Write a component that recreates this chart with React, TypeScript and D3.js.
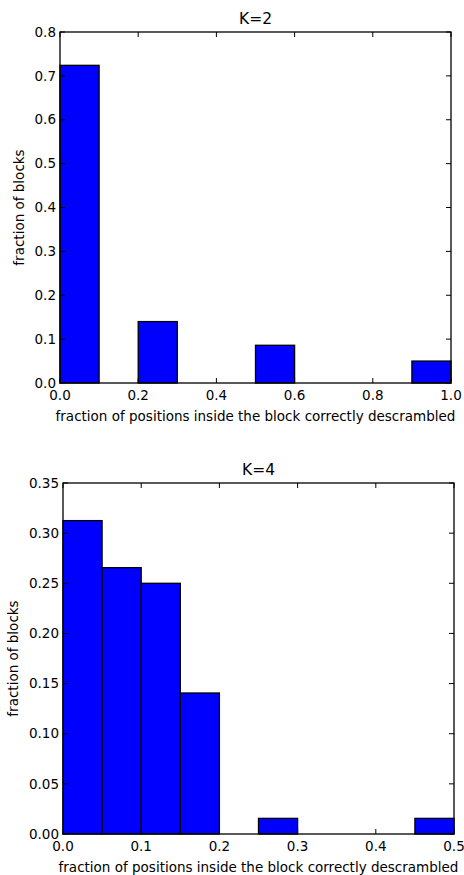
import React, { useRef, useEffect } from 'react';
import * as d3 from 'd3';

// K=2 histogram (bin edges and heights)
const k2Bins = [[0.0, 0.1], [0.2, 0.3], [0.5, 0.6], [0.9, 1.0]];
const k2Values = [0.724, 0.14, 0.086, 0.05];
const k2XTicks = [0.0, 0.2, 0.4, 0.6, 0.8, 1.0];
const k2YTicks = [0.0, 0.1, 0.2, 0.3, 0.4, 0.5, 0.6, 0.7, 0.8];

// K=4 histogram
const k4Bins = [[0.0, 0.05], [0.05, 0.1], [0.1, 0.15], [0.15, 0.2], [0.25, 0.3], [0.45, 0.5]];
const k4Values = [0.3125, 0.2656, 0.25, 0.1406, 0.0156, 0.0156];
const k4XTicks = [0.0, 0.1, 0.2, 0.3, 0.4, 0.5];
const k4YTicks = [0.0, 0.05, 0.1, 0.15, 0.2, 0.25, 0.3, 0.35];

const xLabel = 'fraction of positions inside the block correctly descrambled';
const yLabel = 'fraction of blocks';

const FONT = 'DejaVu Sans, sans-serif';
const FS = 13.5;

function drawPanel(g, opts) {
    const { left, top, width, height, title, bins, values, xTicks, yTicks, xMax, yMax, xFmt, yFmt, yLabelX } = opts;
    const x = d3.scaleLinear().domain([0, xMax]).range([left, left + width]);
    const y = d3.scaleLinear().domain([0, yMax]).range([top + height, top]);
    const tick = 5;

    // bars
    g.selectAll('rect.bar')
        .data(bins.map((b, i) => ({ x0: b[0], x1: b[1], v: values[i] })))
        .join('rect')
        .attr('class', 'bar')
        .attr('x', d => x(d.x0))
        .attr('y', d => y(d.v))
        .attr('width', d => x(d.x1) - x(d.x0))
        .attr('height', d => y(0) - y(d.v))
        .attr('fill', '#0000ff')
        .attr('stroke', '#000')
        .attr('stroke-width', 1.3);

    // frame
    g.append('rect')
        .attr('x', left).attr('y', top)
        .attr('width', width).attr('height', height)
        .attr('fill', 'none').attr('stroke', '#000').attr('stroke-width', 1.3);

    // inward ticks on all four sides
    xTicks.forEach(t => {
        g.append('line').attr('x1', x(t)).attr('x2', x(t)).attr('y1', top + height).attr('y2', top + height - tick).attr('stroke', '#000');
        g.append('line').attr('x1', x(t)).attr('x2', x(t)).attr('y1', top).attr('y2', top + tick).attr('stroke', '#000');
        g.append('text').attr('x', x(t)).attr('y', top + height + 17)
            .attr('text-anchor', 'middle').attr('font-family', FONT).attr('font-size', FS)
            .text(xFmt(t));
    });
    yTicks.forEach(t => {
        g.append('line').attr('x1', left).attr('x2', left + tick).attr('y1', y(t)).attr('y2', y(t)).attr('stroke', '#000');
        g.append('line').attr('x1', left + width).attr('x2', left + width - tick).attr('y1', y(t)).attr('y2', y(t)).attr('stroke', '#000');
        g.append('text').attr('x', left - 4).attr('y', y(t)).attr('dy', '0.35em')
            .attr('text-anchor', 'end').attr('font-family', FONT).attr('font-size', FS)
            .text(yFmt(t));
    });

    g.append('text').attr('x', left + width / 2).attr('y', top - 8)
        .attr('text-anchor', 'middle').attr('font-family', FONT).attr('font-size', 15.5)
        .text(title);
    g.append('text').attr('x', left + width / 2).attr('y', top + height + 38)
        .attr('text-anchor', 'middle').attr('font-family', FONT).attr('font-size', FS)
        .text(xLabel);
    g.append('text')
        .attr('transform', `translate(${yLabelX},${top + height / 2}) rotate(-90)`)
        .attr('text-anchor', 'middle').attr('font-family', FONT).attr('font-size', FS)
        .text(yLabel);
}

const App = () => {
    const svgRef = useRef(null);
    useEffect(() => {
        const svg = d3.select(svgRef.current);
        svg.selectAll('*').remove();
        svg.append('rect').attr('width', 464).attr('height', 875).attr('fill', '#fff');

        drawPanel(svg.append('g'), {
            left: 60, top: 32, width: 391, height: 351,
            title: 'K=2', bins: k2Bins, values: k2Values,
            xTicks: k2XTicks, yTicks: k2YTicks, xMax: 1.0, yMax: 0.8,
            xFmt: d3.format('.1f'), yFmt: d3.format('.1f'), yLabelX: 24,
        });
        drawPanel(svg.append('g'), {
            left: 63, top: 483, width: 391, height: 351,
            title: 'K=4', bins: k4Bins, values: k4Values,
            xTicks: k4XTicks, yTicks: k4YTicks, xMax: 0.5, yMax: 0.35,
            xFmt: d3.format('.1f'), yFmt: d3.format('.2f'), yLabelX: 18,
        });
    }, []);

    return <svg ref={svgRef} width={464} height={875} style={{ position: 'absolute', left: 0, top: 0 }} />;
};

export default App;
